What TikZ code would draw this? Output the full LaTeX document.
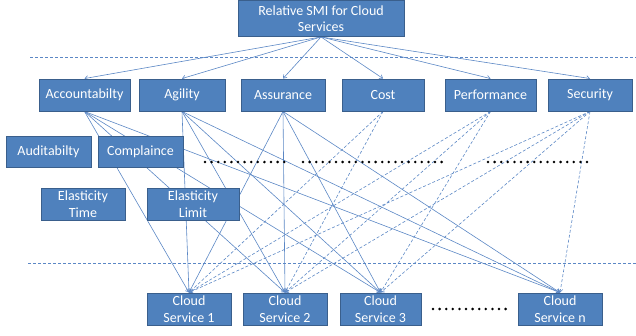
\documentclass[tikz,border=0pt]{standalone}
\usepackage{fontspec}
\setmainfont{Carlito}
\usetikzlibrary{arrows.meta}
\pgfdeclarelayer{wires}
\pgfsetlayers{wires,main}
\definecolor{boxfill}{HTML}{4F81BD}
\definecolor{boxedge}{HTML}{3A5F8C}
\definecolor{wire}{HTML}{5B87C5}
\begin{document}
\begin{tikzpicture}[x=1pt,y=-1pt,
  box/.style={draw=boxedge, fill=boxfill, line width=0.9pt, text=white,
    font=\fontsize{14}{16.5}\selectfont, align=center, inner sep=0pt,
    minimum height=32pt},
  link/.style={draw=wire, line width=0.6pt, -{Straight Barb[length=3pt,width=4.5pt]}},
  dashlink/.style={link, dash pattern=on 3pt off 2pt},
  sep/.style={draw=wire, line width=0.6pt, dash pattern=on 3pt off 2pt},
  dotrow/.style={line width=2.8pt, line cap=round, dash pattern=on 0pt off 6.6pt}
]
\useasboundingbox (0,0) rectangle (636,335);

% separators between the levels
\coordinate (s1a) at (30,57);  \coordinate (s1b) at (636,57);
\coordinate (s2a) at (28,263); \coordinate (s2b) at (636,263);
\draw[sep] (s1a) -- (s1b);
\draw[sep] (s2a) -- (s2b);

% goal
\node[box, minimum width=166pt, minimum height=36pt] (root) at (321,18.5) {Relative SMI for Cloud\\Services};

% top-level attributes
\node[box, minimum width=91pt] (acc)  at (84.5,95) {Accountabilty};
\node[box, minimum width=86pt] (agi)  at (182,95)  {Agility};
\node[box, minimum width=84pt] (asu)  at (283,95)  {Assurance};
\node[box, minimum width=82pt] (cost) at (383,95)  {Cost};
\node[box, minimum width=91pt] (perf) at (490.5,95) {Performance};
\node[box, minimum width=84pt] (sec)  at (590,95)  {Security};

% sub-attributes
\node[box, minimum width=85pt, minimum height=31pt] (aud)  at (48.5,151.5) {Auditabilty};
\node[box, minimum width=85pt, minimum height=31pt] (comp) at (140.5,151.5) {Complaince};
\node[box, minimum width=84pt] (etime)  at (83,204)  {Elasticity\\Time};
\node[box, minimum width=92pt] (elimit) at (193,204) {Elasticity\\Limit};

% alternatives
\node[box, minimum width=84pt] (c1) at (189,309)   {Cloud\\Service 1};
\node[box, minimum width=84pt] (c2) at (285,309)   {Cloud\\Service 2};
\node[box, minimum width=81pt] (c3) at (380.5,309) {Cloud\\Service 3};
\node[box, minimum width=84pt] (cn) at (560,309)   {Cloud\\Service n};

% omitted entries
\coordinate (d1a) at (205,162); \coordinate (d1b) at (285,162);
\coordinate (d2a) at (303,162); \coordinate (d2b) at (446,162);
\coordinate (d3a) at (488,162); \coordinate (d3b) at (590,162);
\coordinate (d4a) at (433,309); \coordinate (d4b) at (508,309);
\draw[dotrow] (d1a) -- (d1b);
\draw[dotrow] (d2a) -- (d2b);
\draw[dotrow] (d3a) -- (d3b);
\draw[dotrow] (d4a) -- (d4b);

\begin{pgfonlayer}{wires}
  \foreach \t in {acc,agi,asu,cost,perf,sec}
    \draw[link] (root.south) -- (\t.north);
  \foreach \s in {acc,agi,asu}
    \foreach \t in {c1,c2,c3,cn}
      \draw[link] (\s.south) -- (\t.north);
  \foreach \t in {c1,c2}
    \draw[dashlink] (cost.south) -- (\t.north);
  \foreach \t in {c1,c2,c3}
    \draw[dashlink] (perf.south) -- (\t.north);
  \foreach \t in {c1,c2,c3,cn}
    \draw[dashlink] (sec.south) -- (\t.north);
\end{pgfonlayer}
\end{tikzpicture}
\end{document}
